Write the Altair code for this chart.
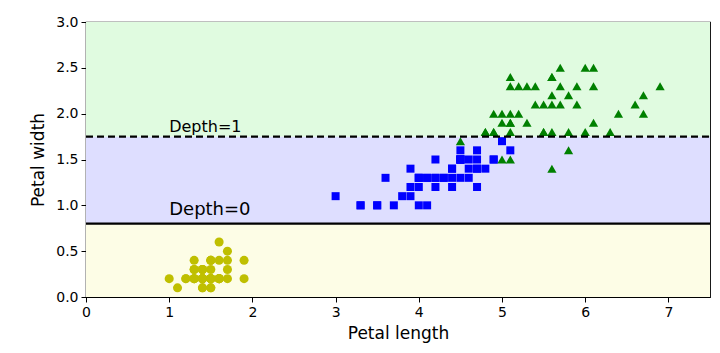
import altair as alt
import pandas as pd

setosa_len = [1.4,1.4,1.3,1.5,1.4,1.7,1.4,1.5,1.4,1.5,1.5,1.6,1.4,1.1,1.2,1.5,1.3,1.4,1.7,1.5,
              1.7,1.5,1.0,1.7,1.9,1.6,1.6,1.5,1.4,1.6,1.6,1.5,1.5,1.4,1.5,1.2,1.3,1.4,1.3,1.5,
              1.3,1.3,1.3,1.6,1.9,1.4,1.6,1.4,1.5,1.4]
setosa_wid = [0.2,0.2,0.2,0.2,0.2,0.4,0.3,0.2,0.2,0.1,0.2,0.2,0.1,0.1,0.2,0.4,0.4,0.3,0.3,0.3,
              0.2,0.4,0.2,0.5,0.2,0.2,0.4,0.2,0.2,0.2,0.2,0.4,0.1,0.2,0.2,0.2,0.2,0.1,0.2,0.2,
              0.3,0.3,0.2,0.6,0.4,0.3,0.2,0.2,0.2,0.2]
versi_len = [4.7,4.5,4.9,4.0,4.6,4.5,4.7,3.3,4.6,3.9,3.5,4.2,4.0,4.7,3.6,4.4,4.5,4.1,4.5,3.9,
             4.0,4.9,4.7,4.3,4.4,4.8,5.0,4.5,3.5,3.8,3.7,3.9,5.1,4.5,4.5,4.7,4.4,4.1,4.0,
             4.4,4.6,4.0,3.3,4.2,4.2,4.2,4.3,3.0,4.1]
versi_wid = [1.4,1.5,1.5,1.3,1.5,1.3,1.6,1.0,1.3,1.4,1.0,1.5,1.0,1.4,1.3,1.4,1.5,1.0,1.5,1.1,
             1.3,1.5,1.2,1.3,1.4,1.4,1.7,1.5,1.0,1.1,1.0,1.2,1.6,1.5,1.6,1.5,1.3,1.3,1.3,
             1.2,1.4,1.2,1.0,1.3,1.2,1.3,1.3,1.1,1.3]
virg_len = [6.0,5.1,5.9,5.6,5.8,6.6,4.5,6.3,5.8,6.1,5.1,5.3,5.5,5.0,5.1,5.3,5.5,6.7,6.9,5.0,
            5.7,4.9,6.7,4.9,5.7,6.0,4.8,4.9,5.6,5.8,6.1,6.4,5.6,5.1,5.6,6.1,5.6,5.5,4.8,5.4,
            5.6,5.1,5.1,5.9,5.7,5.2,5.0,5.2,5.4,5.1]
virg_wid = [2.5,1.9,2.1,1.8,2.2,2.1,1.7,1.8,1.8,2.5,2.0,1.9,2.1,2.0,2.4,2.3,1.8,2.2,2.3,1.5,
            2.3,2.0,2.0,1.8,2.1,1.8,1.8,1.8,2.1,1.6,1.9,2.0,2.2,1.5,1.4,2.3,2.4,1.8,1.8,2.1,
            2.4,2.3,1.9,2.3,2.5,2.3,1.9,2.0,2.3,1.8]

region_lo = [0.0, 0.8, 1.75]
region_hi = [0.8, 1.75, 3.0]
region_col = ["#fdfde6", "#dedeff", "#e0fbe0"]

FONT = "DejaVu Sans"

regions = pd.DataFrame({"lo": region_lo, "hi": region_hi, "col": region_col,
                        "x0": [0.0] * 3, "x1": [7.5] * 3})

xs = alt.Scale(domain=[0, 7.5], nice=False, zero=False)
ys = alt.Scale(domain=[0, 3], nice=False, zero=False)

xaxis = alt.Axis(title="Petal length", values=[0, 1, 2, 3, 4, 5, 6, 7], format="d", grid=False,
                 labelFontSize=14, titleFontSize=17, labelFont=FONT, titleFont=FONT,
                 labelColor="black", titleColor="black", domain=False, tickColor="black",
                 tickSize=5, labelPadding=3, titlePadding=6, titleFontWeight="normal",
                 labelFlush=False)
yaxis = alt.Axis(title="Petal width", values=[0, 0.5, 1, 1.5, 2, 2.5, 3], format=".1f",
                 grid=False, labelFontSize=14, titleFontSize=17, labelFont=FONT, titleFont=FONT,
                 labelColor="black", titleColor="black", domain=False, tickColor="black",
                 tickSize=5, labelPadding=3, titlePadding=8, titleFontWeight="normal",
                 labelFlush=False)

bg = alt.Chart(regions).mark_rect().encode(
    x=alt.X("x0:Q", scale=xs, axis=xaxis),
    x2="x1:Q",
    y=alt.Y("lo:Q", scale=ys, axis=yaxis),
    y2="hi:Q",
    color=alt.Color("col:N", scale=None),
)

def pts(xl, yl, shape, color, size):
    df = pd.DataFrame({"x": xl, "y": yl})
    return alt.Chart(df).mark_point(shape=shape, filled=True, color=color, size=size, opacity=1).encode(
        x=alt.X("x:Q", scale=xs), y=alt.Y("y:Q", scale=ys))

p0 = pts(setosa_len, setosa_wid, "circle", "#bfbf00", 82)
p1 = pts(versi_len, versi_wid, "square", "#0000ff", 64)
p2 = pts(virg_len, virg_wid, "triangle-up", "#008000", 85)

lines = pd.DataFrame({"y": [0.8, 1.75], "x0": [0.0, 0.0], "x1": [7.5, 7.5]})
solid = alt.Chart(lines[lines.y == 0.8]).mark_rule(color="black", strokeWidth=2.2).encode(
    x=alt.X("x0:Q", scale=xs), x2="x1:Q", y=alt.Y("y:Q", scale=ys))
dashed = alt.Chart(lines[lines.y == 1.75]).mark_rule(color="black", strokeWidth=2.2,
                                                    strokeDash=[7, 4]).encode(
    x=alt.X("x0:Q", scale=xs), x2="x1:Q", y=alt.Y("y:Q", scale=ys))

labels = pd.DataFrame({"x": [1.0, 1.0], "y": [0.9, 1.80], "t": ["Depth=0", "Depth=1"]})
t0 = alt.Chart(labels.iloc[[0]]).mark_text(align="left", baseline="alphabetic", font=FONT,
                                           fontSize=18, color="black").encode(
    x=alt.X("x:Q", scale=xs), y=alt.Y("y:Q", scale=ys), text="t:N")
t1 = alt.Chart(labels.iloc[[1]]).mark_text(align="left", baseline="alphabetic", font=FONT,
                                           fontSize=16, color="black").encode(
    x=alt.X("x:Q", scale=xs), y=alt.Y("y:Q", scale=ys), text="t:N")

chart = alt.layer(bg, p0, p1, p2, solid, dashed, t0, t1).properties(
    width=624, height=275,
    autosize=alt.AutoSizeParams(type="none"),
    padding={"left": 86, "top": 22, "right": 10, "bottom": 56},
).configure_view(stroke="black", strokeWidth=1.2)

chart.save("out.html", embed_options={"renderer": "svg", "actions": False})
